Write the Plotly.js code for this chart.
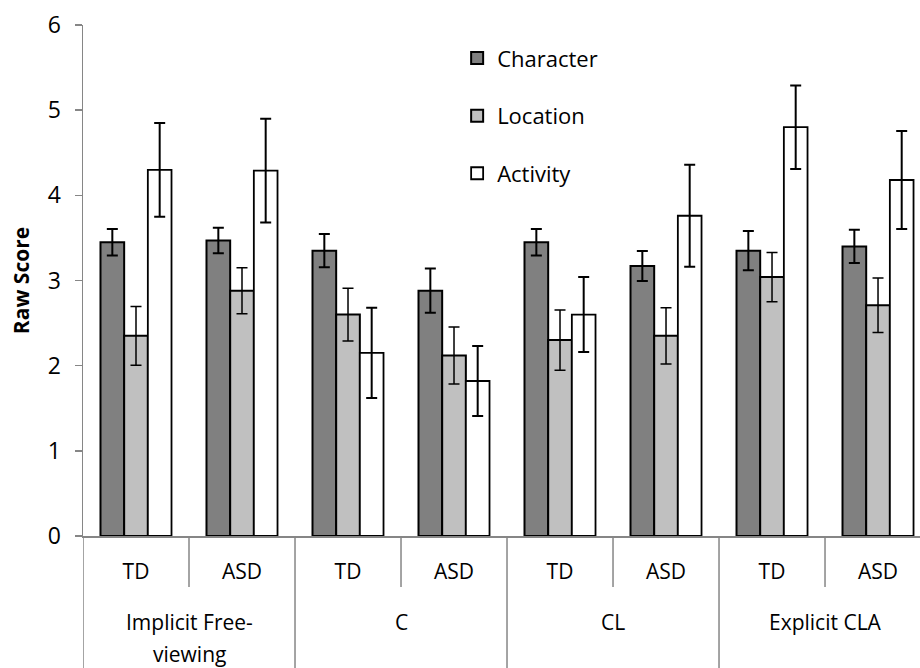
<!DOCTYPE html>
<html>
<head>
<meta charset="utf-8">
<script src="https://cdn.plot.ly/plotly-3.0.1.min.js"></script>
<style>
  html, body { margin: 0; padding: 0; background: #ffffff; }
  #chart { width: 920px; height: 668px; }
</style>
</head>
<body>
<div id="chart"></div>
<script>
// Sub-groups along the x axis and their parent conditions
const groups = ["TD", "ASD", "TD", "ASD", "TD", "ASD", "TD", "ASD"];
const conditions = ["Implicit Free-|viewing", "C", "CL", "Explicit CLA"];

// Mean raw scores per feature type
const characterScores = [3.45, 3.47, 3.35, 2.88, 3.45, 3.17, 3.35, 3.40];
const locationScores  = [2.35, 2.88, 2.60, 2.12, 2.30, 2.35, 3.04, 2.71];
const activityScores  = [4.30, 4.29, 2.15, 1.82, 2.60, 3.76, 4.80, 4.18];

// Error bar half-lengths
const characterErr = [0.155, 0.15, 0.195, 0.26, 0.155, 0.175, 0.23, 0.195];
const locationErr  = [0.345, 0.27, 0.31, 0.335, 0.355, 0.33, 0.29, 0.32];
const activityErr  = [0.55, 0.61, 0.53, 0.41, 0.44, 0.60, 0.49, 0.575];

const FONT = "Open Sans, Noto Sans, DejaVu Sans, sans-serif";
const AXIS_GREY = "#868686";
const TEXT_SIZE = 21;

const xs = groups.map((_, i) => i);

function barTrace(name, values, errors, fill, lineW, errW) {
  return {
    type: "bar",
    name: name,
    legendgroup: name,
    x: xs,
    y: values,
    marker: { color: fill, line: { color: "#000000", width: lineW } },
    error_y: {
      type: "data", array: errors, visible: true,
      color: "#000000", thickness: errW, width: 5.5
    },
    hoverinfo: "y"
  };
}

const traces = [
  barTrace("Character", characterScores, characterErr, "#808080", 2, 2),
  barTrace("Location", locationScores, locationErr, "#c0c0c0", 2, 1.5),
  barTrace("Activity", activityScores, activityErr, "#ffffff", 1.8, 2)
];

// Divider lines below the axis: short between TD/ASD, long between conditions
const shapes = [];
for (let k = 0; k <= groups.length; k++) {
  const xpos = k - 0.5;
  const long = (k % 2 === 0);
  shapes.push({
    type: "line", xref: "x", yref: "paper",
    x0: xpos, x1: xpos, y0: 0, y1: long ? -0.26 : -0.0998,
    line: { color: AXIS_GREY, width: 1.5 }
  });
}

// Condition labels (two-line label split on "|")
const annotations = [];
conditions.forEach((c, j) => {
  const lines = c.split("|");
  const cx = 2 * j + 0.5;
  lines.forEach((t, li) => {
    annotations.push({
      xref: "x", yref: "paper", x: cx, y: -0.168 - li * 0.0635,
      text: t, showarrow: false, xanchor: "center", yanchor: "middle",
      font: { family: FONT, size: TEXT_SIZE, color: "#000000" }
    });
  });
});

const layout = {
  width: 920, height: 668,
  margin: { l: 83, r: 0, t: 25, b: 132 },
  paper_bgcolor: "#ffffff",
  plot_bgcolor: "#ffffff",
  barmode: "group",
  bargap: 0.33,
  bargroupgap: 0,
  showlegend: true,
  legend: {
    x: 0.447, y: 0.976, xanchor: "left", yanchor: "top",
    traceorder: "grouped", tracegroupgap: 26,
    font: { family: FONT, size: 22, color: "#000000" },
    bgcolor: "rgba(0,0,0,0)"
  },
  xaxis: {
    range: [-0.5, 7.396],
    tickmode: "array", tickvals: xs, ticktext: groups,
    ticks: "", showgrid: false, zeroline: false,
    showline: true, linecolor: AXIS_GREY, linewidth: 1.5,
    tickfont: { family: FONT, size: TEXT_SIZE, color: "#000000" },
    ticklabelstandoff: 16
  },
  yaxis: {
    range: [0, 6], dtick: 1, tick0: 0,
    ticks: "outside", ticklen: 7, tickcolor: AXIS_GREY, tickwidth: 1.5,
    showgrid: false, zeroline: false,
    showline: true, linecolor: AXIS_GREY, linewidth: 1.5,
    tickfont: { family: FONT, size: 23, color: "#000000" },
    ticklabelstandoff: 9,
    title: { text: "<b>Raw Score</b>", font: { family: FONT, size: 21, color: "#000000" }, standoff: 12 }
  },
  shapes: shapes,
  annotations: annotations
};

Plotly.newPlot("chart", traces, layout, { displayModeBar: false, staticPlot: true });
</script>
</body>
</html>
